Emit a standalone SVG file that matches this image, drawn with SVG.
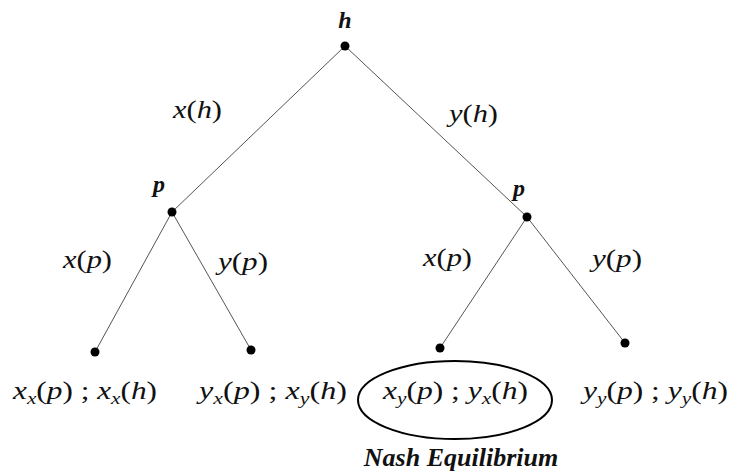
<svg xmlns="http://www.w3.org/2000/svg" width="731" height="474" viewBox="0 0 731 474">
<style>
text{font-family:'Liberation Serif','Times New Roman',serif;fill:#111}
.m{font-size:25px}
.i{font-style:italic}
.s{font-style:italic;font-size:17px}
.b{font-weight:bold;font-style:italic}
.big{font-size:24px}
.nash{font-size:26px}
.e{stroke:#555;stroke-width:1;fill:none}
.d{fill:#000}
</style>
<rect width="731" height="474" fill="#fff"/>
<g id="connectors">
<line class="e" x1="345" y1="46" x2="172" y2="212"/>
<line class="e" x1="345" y1="46" x2="527" y2="217"/>
<line class="e" x1="172" y1="212" x2="95" y2="352"/>
<line class="e" x1="172" y1="212" x2="251" y2="350"/>
<line class="e" x1="527" y1="217" x2="440" y2="348"/>
<line class="e" x1="527" y1="217" x2="625" y2="343"/>
</g>
<g id="edge-labels">
<text class="m" x="173" y="118" textLength="49" lengthAdjust="spacingAndGlyphs"><tspan class="i">x</tspan>(<tspan class="i">h</tspan>)</text>
<text class="m" x="449" y="122" textLength="49" lengthAdjust="spacingAndGlyphs"><tspan class="i">y</tspan>(<tspan class="i">h</tspan>)</text>
<text class="m" x="63" y="268" textLength="49" lengthAdjust="spacingAndGlyphs"><tspan class="i">x</tspan>(<tspan class="i">p</tspan>)</text>
<text class="m" x="218" y="270" textLength="50" lengthAdjust="spacingAndGlyphs"><tspan class="i">y</tspan>(<tspan class="i">p</tspan>)</text>
<text class="m" x="423" y="266" textLength="49" lengthAdjust="spacingAndGlyphs"><tspan class="i">x</tspan>(<tspan class="i">p</tspan>)</text>
<text class="m" x="592" y="267" textLength="50" lengthAdjust="spacingAndGlyphs"><tspan class="i">y</tspan>(<tspan class="i">p</tspan>)</text>
</g>
<g id="root">
<circle class="d" cx="345" cy="46" r="4.5"/>
<text class="b big" x="345" y="28" text-anchor="middle">h</text>
</g>
<g id="p-left">
<circle class="d" cx="172" cy="212" r="4.5"/>
<text class="b big" x="159" y="192" text-anchor="middle">p</text>
</g>
<g id="p-right">
<circle class="d" cx="527" cy="217" r="4.5"/>
<text class="b big" x="519" y="196" text-anchor="middle">p</text>
</g>
<g id="leaf-xx">
<circle class="d" cx="95" cy="352" r="4.5"/>
<text class="m" x="13" y="399" textLength="144" lengthAdjust="spacingAndGlyphs"><tspan class="i">x</tspan><tspan class="s" dy="5">x</tspan><tspan dy="-5">(</tspan><tspan class="i">p</tspan>) ; <tspan class="i">x</tspan><tspan class="s" dy="5">x</tspan><tspan dy="-5">(</tspan><tspan class="i">h</tspan>)</text>
</g>
<g id="leaf-xy">
<circle class="d" cx="251" cy="350" r="4.5"/>
<text class="m" x="199" y="399" textLength="148" lengthAdjust="spacingAndGlyphs"><tspan class="i">y</tspan><tspan class="s" dy="5">x</tspan><tspan dy="-5">(</tspan><tspan class="i">p</tspan>) ; <tspan class="i">x</tspan><tspan class="s" dy="5">y</tspan><tspan dy="-5">(</tspan><tspan class="i">h</tspan>)</text>
</g>
<g id="leaf-yx">
<circle class="d" cx="440" cy="348" r="4.5"/>
<ellipse cx="455" cy="400" rx="97" ry="39" fill="none" stroke="#000" stroke-width="2"/>
<text class="m" x="383" y="399" textLength="145" lengthAdjust="spacingAndGlyphs"><tspan class="i">x</tspan><tspan class="s" dy="5">y</tspan><tspan dy="-5">(</tspan><tspan class="i">p</tspan>) ; <tspan class="i">y</tspan><tspan class="s" dy="5">x</tspan><tspan dy="-5">(</tspan><tspan class="i">h</tspan>)</text>
<text class="b nash" x="461" y="466" text-anchor="middle">Nash Equilibrium</text>
</g>
<g id="leaf-yy">
<circle class="d" cx="625" cy="343" r="4.5"/>
<text class="m" x="583" y="399" textLength="145" lengthAdjust="spacingAndGlyphs"><tspan class="i">y</tspan><tspan class="s" dy="5">y</tspan><tspan dy="-5">(</tspan><tspan class="i">p</tspan>) ; <tspan class="i">y</tspan><tspan class="s" dy="5">y</tspan><tspan dy="-5">(</tspan><tspan class="i">h</tspan>)</text>
</g>
</svg>
